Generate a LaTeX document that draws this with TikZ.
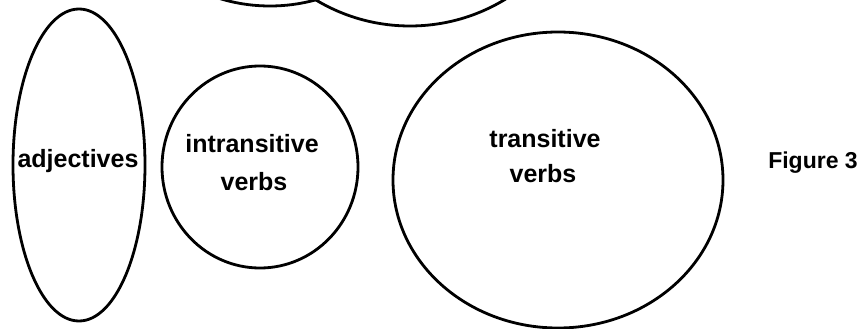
\documentclass[tikz,border=0pt]{standalone}
\usepackage{fontspec}
\newfontfamily\lab{Liberation Sans Bold}
\begin{document}
\begin{tikzpicture}[x=1pt,y=-1pt,
  outline/.style={draw=black,line width=2.8pt},
  label/.style={font=\lab\fontsize{25}{28}\selectfont,inner sep=0pt,anchor=base,text=black}]
\useasboundingbox (0,0) rectangle (863,329);
\clip (0,0) rectangle (863,329);
% partial shapes at the top
\draw[outline] (270,-166) circle[radius=172];
\draw[outline] (410,-157) circle[radius=183];
% main shapes
\draw[outline] (79,165) ellipse[x radius=66,y radius=156];
\draw[outline] (260,167) ellipse[x radius=98,y radius=101];
\draw[outline] (558,180) ellipse[x radius=165,y radius=148];
% labels
\node[label] (adj) at (78,167) {adjectives};
\node[label] (intr1) at (252,153) {intransitive};
\node[label] (intr2) at (254,190) {verbs};
\node[label] (tr1) at (545,147) {transitive};
\node[label] (tr2) at (543,182) {verbs};
\node[label,font=\lab\fontsize{23}{26}\selectfont] (fig) at (813,168) {Figure 3};
\end{tikzpicture}
\end{document}
